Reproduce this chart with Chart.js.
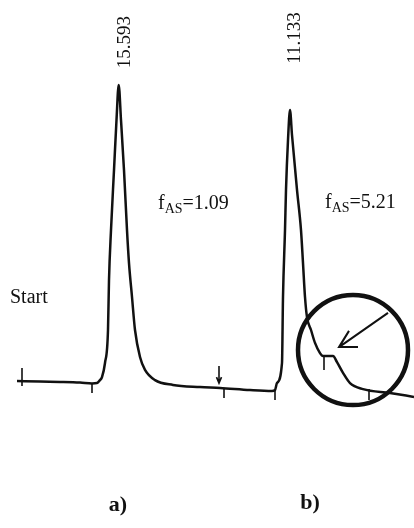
<!DOCTYPE html>
<html>
<head>
<meta charset="utf-8">
<script src="https://cdn.jsdelivr.net/npm/chart.js@4"></script>
<style>
html,body{margin:0;padding:0;background:#fff;}
#wrap{width:414px;height:528px;position:relative;}
</style>
</head>
<body>
<div id="wrap"><canvas id="c"></canvas></div>
<script>
// Chromatogram trace: retention time (min) and detector signal
const traceTime = [0.85,2.0,3.0,4.0,4.6,4.85,5.0,5.1,5.25,5.4,5.45,5.55,5.7,5.825,5.935,6.05,6.2,6.35,6.45,6.6,6.75,7.0,7.25,7.75,8.65,10.0,11.0,12.5,13.6,13.75,13.85,14.1,14.15,14.25,14.3,14.4,14.5,14.6,14.85,15.05,15.15,15.25,15.35,15.55,15.75,16.0,16.15,16.65,16.85,17.15,17.5,18.15,19.5,20.7];
const traceSignal = [3.0,2.8,2.7,2.5,2.2,2.3,3.3,4.3,9,20,36.7,53.3,73.3,90,101.7,90,73.3,53.3,42.3,31,20,11,6.7,3.3,1.7,1.0,0.7,0,-0.3,0,2.3,9,31,53.3,66.7,83.3,93.3,85,66.7,53.3,42.3,31,24.3,20,15.7,12.3,11.3,11.3,9.3,5.7,2.3,0.3,-1,-2.3];

// Integration markers (vertical ticks): time, top signal, bottom signal
const markerTime   = [1.1, 4.6, 10.95, 11.2, 13.75, 16.2, 18.45];
const markerTop    = [7.3, 2.3, 8.0, 0.3, -0.3, 11.3, 0.3];
const markerBottom = [1.3, -1.0, 2.3, -2.7, -3.3, 6.7, -3.3];

// Peak retention-time labels
const peakLabels = ["15.593", "11.133"];
const peakLabelTime = [6.25, 14.75];
const peakLabelSignal = [116, 117.3];

// Asymmetry factor labels
const asymValues = ["1.09", "5.21"];
const asymTime = [7.9, 16.25];
const asymSignal = [60.3, 60.7];

// Panel labels
const panelLabels = ["a)", "b)"];
const panelTime = [5.9, 15.5];
const panelSignal = [-38.3, -37.7];

const startLabel = "Start";
const startTime = 0.5, startSignal = 30.7;

// Highlight circle and arrow (data positions)
const circleCenter = {x: 17.65, y: 13.3};
const arrowTail = {x: 19.4, y: 25.7};
const arrowTip = {x: 16.95, y: 14.3};
const arrowWingA = {x: 17.45, y: 19.7};
const arrowWingB = {x: 17.9, y: 14.3};
const downArrowWings = [{x:10.825,y:4.3},{x:10.95,y:2.3},{x:11.075,y:4.3}];

const traceData = traceTime.map((t,i)=>({x:t,y:traceSignal[i]}));
const markerData = [];
markerTime.forEach((t,i)=>{
  markerData.push({x:t,y:markerTop[i]},{x:t,y:markerBottom[i]},{x:t,y:null});
});
downArrowWings.forEach(p=>markerData.push(p));

const arrowData = [arrowTail, arrowTip, {x:arrowTip.x,y:null}, arrowWingA, arrowTip, arrowWingB];

const ink = '#111';

const textPlugin = {
  id: 'texts',
  afterDatasetsDraw(chart){
    const ctx = chart.ctx, xs = chart.scales.x, ys = chart.scales.y;
    ctx.save();
    ctx.fillStyle = ink;
    // rotated peak labels
    ctx.font = '19px "Liberation Serif"';
    ctx.textAlign = 'center'; ctx.textBaseline = 'middle';
    peakLabels.forEach((s,i)=>{
      ctx.save();
      ctx.translate(xs.getPixelForValue(peakLabelTime[i]), ys.getPixelForValue(peakLabelSignal[i]));
      ctx.rotate(-Math.PI/2);
      ctx.fillText(s,0,0);
      ctx.restore();
    });
    // asymmetry labels
    ctx.textAlign = 'left'; ctx.textBaseline = 'alphabetic';
    asymValues.forEach((v,i)=>{
      let x = xs.getPixelForValue(asymTime[i]);
      const y = ys.getPixelForValue(asymSignal[i]);
      ctx.font = '20px "Liberation Serif"';
      ctx.fillText('f', x, y); x += ctx.measureText('f').width;
      ctx.font = '14px "Liberation Serif"';
      ctx.fillText('AS', x, y+4); x += ctx.measureText('AS').width;
      ctx.font = '20px "Liberation Serif"';
      ctx.fillText('=' + v, x, y);
    });
    // Start
    ctx.font = '20px "Liberation Serif"';
    ctx.textBaseline = 'middle';
    ctx.fillText(startLabel, xs.getPixelForValue(startTime), ys.getPixelForValue(startSignal));
    // panel labels
    ctx.font = 'bold 22px "Liberation Serif"';
    ctx.textAlign = 'center';
    panelLabels.forEach((s,i)=>{
      ctx.fillText(s, xs.getPixelForValue(panelTime[i]), ys.getPixelForValue(panelSignal[i]));
    });
    ctx.restore();
  }
};

new Chart(document.getElementById('c'), {
  type: 'line',
  data: {
    datasets: [
      {data: traceData, borderColor: ink, borderWidth: 2.5, pointRadius: 0, cubicInterpolationMode: 'monotone', fill: false},
      {data: markerData, borderColor: ink, borderWidth: 1.6, pointRadius: 0, spanGaps: false, tension: 0, fill: false},
      {data: arrowData, borderColor: ink, borderWidth: 2, pointRadius: 0, spanGaps: false, tension: 0, fill: false},
      {data: [circleCenter], showLine: false, pointRadius: 55, pointHoverRadius: 55, pointBorderWidth: 4.5, pointBorderColor: ink, pointBackgroundColor: 'rgba(0,0,0,0)', clip: false}
    ]
  },
  options: {
    responsive: true,
    maintainAspectRatio: false,
    animation: false,
    devicePixelRatio: 1,
    events: [],
    layout: {padding: 0, autoPadding: false},
    plugins: {legend: {display: false}, tooltip: {enabled: false}},
    scales: {
      x: {type: 'linear', min: 0, max: 20.7, display: false},
      y: {type: 'linear', min: -46, max: 130, display: false}
    }
  },
  plugins: [textPlugin]
});
</script>
</body>
</html>
